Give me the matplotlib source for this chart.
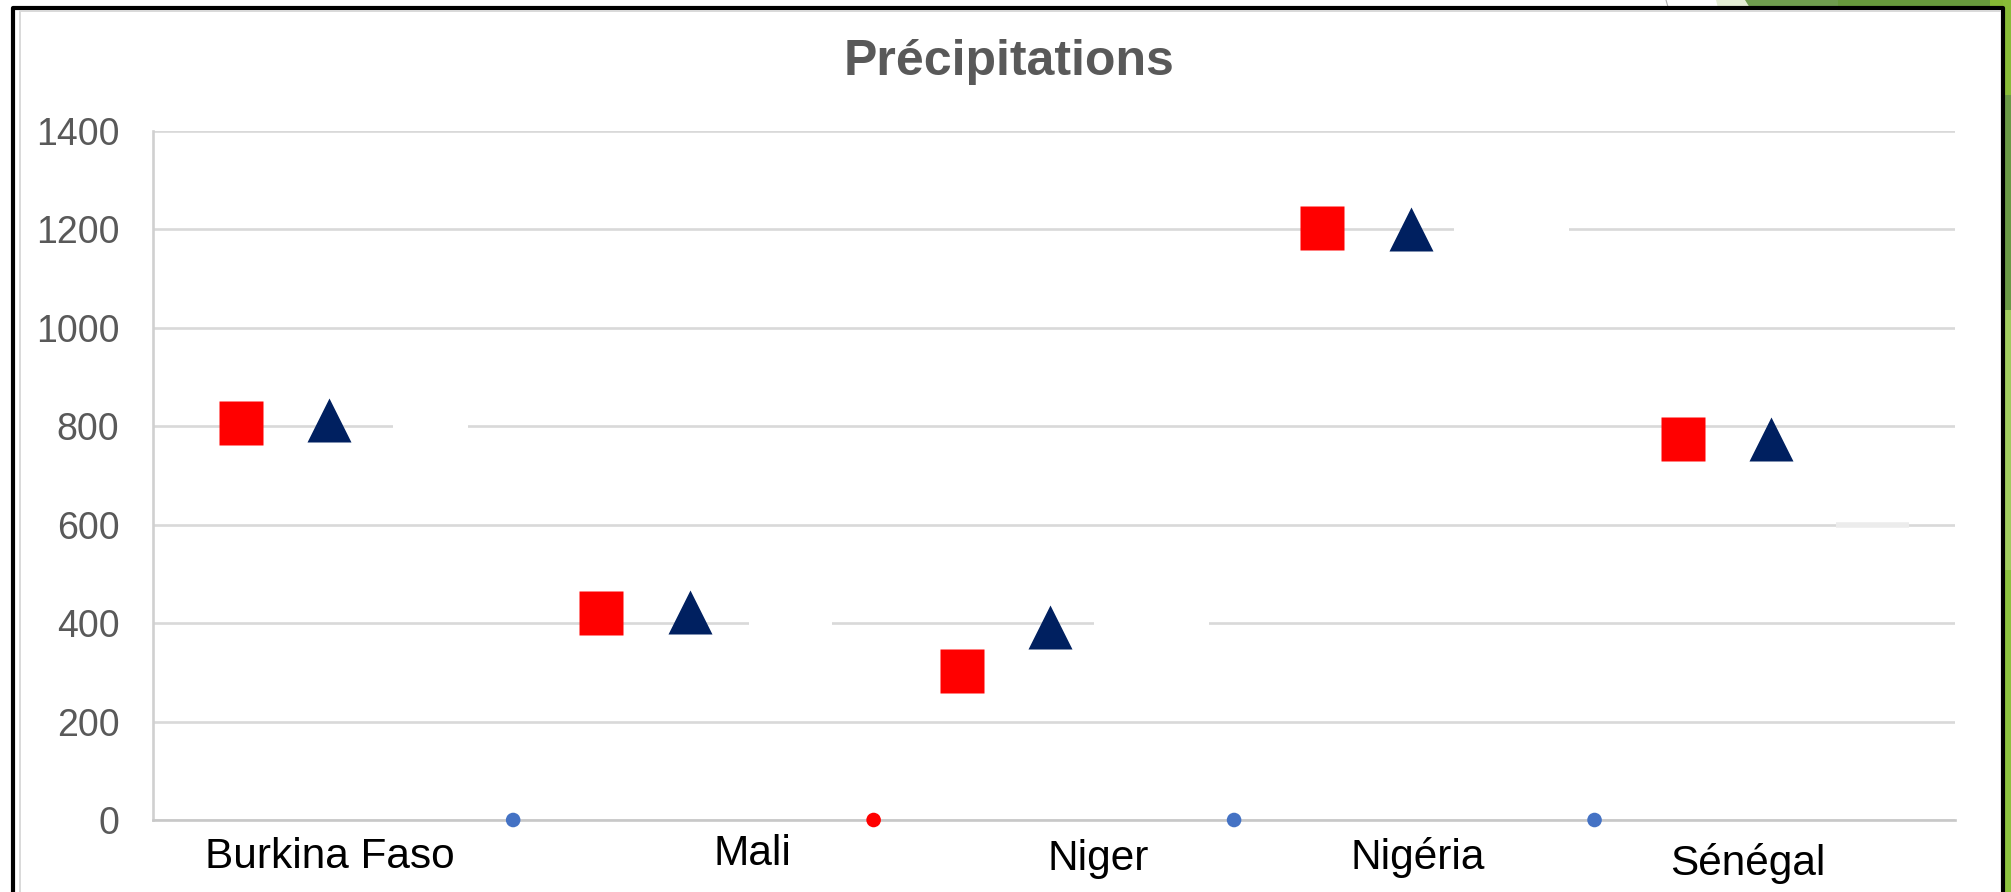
# Précipitations - scatter chart of rainfall per country

import matplotlib.pyplot as plt
from matplotlib.patches import Rectangle, Polygon
from matplotlib.lines import Line2D

W, H = 2011, 892

# data
countries = ['Burkina Faso', 'Mali', 'Niger', 'Nigéria', 'Sénégal']
squares = [807, 421, 303, 1202, 775]
triangles = [813, 422, 392, 1201, 774]
hidden = [800, 400, 400, 1200, 600]
hidden_width = [75, 83, 115, 115, 73]   # px, white series hiding the grid
hidden_colors = ['white', 'white', 'white', 'white', '#ececec']
dots_x = [0.5, 1.5, 2.5, 3.5]
dots_y = [0, 0, 0, 0]
dots_colors = ['#4472C4', '#FF0000', '#4472C4', '#4472C4']

# small horizontal shifts of the category labels (px) and their drop below axis
label_dx = [-3, 59, 44, 3, -27]
label_dy = [37, 34, 39, 37, 43]

plt.rcParams['font.family'] = ['Liberation Sans', 'DejaVu Sans']

fig = plt.figure(figsize=(W / 100, H / 100), dpi=100)
fig.patch.set_facecolor('white')


def fx(x):
    return x / W


def fy(y):
    return 1 - y / H


def rect(x0, y0, x1, y1, color, z=0):
    fig.add_artist(Rectangle((fx(x0), fy(y1)), fx(x1) - fx(x0), fy(y0) - fy(y1),
                             transform=fig.transFigure, facecolor=color,
                             edgecolor='none', zorder=z))


# slide decoration at top right
fig.add_artist(Polygon([(fx(1716), fy(0)), (fx(1745), fy(0)), (fx(1750), fy(8)), (fx(1718), fy(8))],
                       closed=True, transform=fig.transFigure, facecolor='#e4eed5', edgecolor='none'))
rect(1745, 0, 1838, 8, '#6f9d4f')
rect(1838, 0, 1990, 8, '#67993d')
rect(1990, 0, 2011, 8, '#86b934')
rect(2003, 0, 2011, 95, '#88bc37')
rect(2003, 95, 2011, 310, '#6a9a45')
rect(2003, 310, 2011, 570, '#a0cc5e')
rect(2003, 570, 2011, 892, '#8cc23e')
fig.add_artist(Line2D([fx(1666), fx(1668)], [fy(0), fy(7)], transform=fig.transFigure,
                      color='#b0b0b0', lw=0.8))

# chart frame
fig.add_artist(Line2D([fx(12.5), fx(12.5), fx(2003), fx(2003)], [fy(892), fy(8), fy(8), fy(892)],
                      transform=fig.transFigure, color='black', lw=3))
fig.add_artist(Line2D([fx(20), fx(20), fx(2000)], [fy(892), fy(11), fy(11)],
                      transform=fig.transFigure, color='#d9d9d9', lw=1.4))

ax = fig.add_axes([fx(152.7), fy(820), fx(1955) - fx(152.7), fy(131) - fy(820)])
ax.set_facecolor('none')
x = list(range(len(countries)))
ax.set_xlim(-0.5, len(countries) - 0.5)
ax.set_ylim(0, 1400)
ax.set_yticks(range(0, 1401, 200))
ax.set_xticks([])

ax.yaxis.grid(True, color='#d9d9d9', lw=1.9, zorder=0)
ax.set_axisbelow(True)
for s in ['top', 'right']:
    ax.spines[s].set_visible(False)
ax.spines['left'].set_color('#d0d0d0')
ax.spines['left'].set_linewidth(1.9)
ax.spines['bottom'].set_color('#c8c8c8')
ax.spines['bottom'].set_linewidth(1.9)
ax.tick_params(axis='y', length=0, pad=24, labelsize=27, labelcolor='#595959')

# white series covering parts of the grid
ax.scatter([i + 0.27 for i in x], hidden, marker='_',
           s=[(w * 0.72) ** 2 for w in hidden_width], color=hidden_colors,
           linewidths=4, zorder=2)

ax.plot([i - 0.255 for i in x], squares, linestyle='none', marker='s', ms=31.7,
        color='#FF0000', mec='none', zorder=4, clip_on=False)
ax.plot([i - 0.01 for i in x], triangles, linestyle='none', marker='^', ms=31,
        color='#002060', mec='none', zorder=4, clip_on=False)
ax.scatter(dots_x, dots_y, s=(10.5) ** 2, c=dots_colors, edgecolors='none',
           zorder=5, clip_on=False)

for i, name in enumerate(countries):
    ax.annotate(name, xy=(i, 0), xycoords=('data', 'axes fraction'),
                xytext=(label_dx[i] * 0.72, -label_dy[i] * 0.72), textcoords='offset points',
                ha='center', va='center', fontsize=30.5, color='black')

fig.text(fx(1009), fy(62), 'Précipitations', ha='center', va='center',
         fontsize=36, fontweight='bold', color='#595959')

fig.savefig('out.png', dpi=100)
